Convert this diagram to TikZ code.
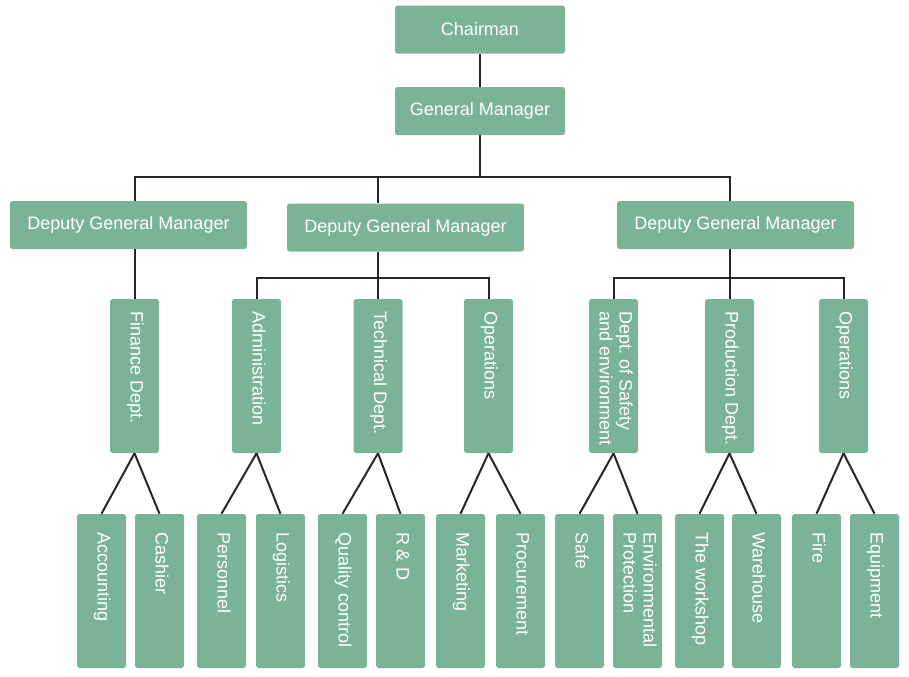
\documentclass[tikz,border=0pt]{standalone}
\usepackage{fontspec}
\setmainfont{Liberation Sans}
\usetikzlibrary{calc}
\definecolor{boxgreen}{HTML}{7BB398}
\definecolor{linegray}{HTML}{262626}
\newcommand{\vlabel}[2]{\makebox[#1][l]{\begin{tabular}{@{}l@{}}#2\end{tabular}}}
\tikzset{
  unit/.style={fill=boxgreen, text=white, rounded corners=2pt, inner sep=0pt, font=\fontsize{13.5}{15}\selectfont},
  hbox/.style={unit, minimum width=#1*0.75pt, minimum height=36pt},
  midbox/.style={unit, rotate=-90, minimum width=115.5pt, minimum height=36.75pt, inner xsep=9pt},
  lowbox/.style={unit, rotate=-90, minimum width=115.5pt, minimum height=36.75pt, inner xsep=13.5pt},
  link/.style={draw=linegray, line width=1.5pt}
}

\begin{document}
\begin{tikzpicture}[x=0.75pt, y=-0.75pt]
\useasboundingbox (0,0) rectangle (909,676);
% top of the chart
\node[hbox=170] (chair) at (480,29.5) {Chairman};
\node[hbox=170] (gm) at (480,111) {General Manager};
\node[hbox=237] (dgmA) at (128.5,225) {Deputy General Manager};
\node[hbox=237] (dgmB) at (405.5,227.5) {Deputy General Manager};
\node[hbox=237] (dgmC) at (735.5,225) {Deputy General Manager};
% departments
\foreach \n/\x/\txt in {fin/134.5/Finance Dept., adm/256.5/Administration, tech/378/Technical Dept., opsA/488.5/Operations, safe/613.5/{Dept.\ of Safety\\and environment}, prod/729.5/Production Dept., opsB/843.5/Operations} {
  \node[midbox] (\n) at (\x,376) {\vlabel{97.5pt}{\txt}};
}
\coordinate (busTop) at (0,177);
\coordinate (busMid) at (0,278);
\draw[link] (chair) -- (gm);
\draw[link] (gm.south) -- (gm.south |- busTop);
\draw[link] (fin.west |- dgmA.north) |- (prod.west |- busTop) -- (prod.west |- dgmC.north);
\draw[link] (tech.west |- busTop) -- (tech.west |- dgmB.north);
\draw[link] (fin.west |- dgmA.south) -- (fin.west);
\draw[link] (tech.west |- dgmB.south) -- (tech.west |- busMid);
\draw[link] (prod.west |- dgmC.south) -- (prod.west |- busMid);
\draw[link] (adm.west) |- (opsA.west |- busMid) -- (opsA.west);
\draw[link] (safe.west) |- (opsB.west |- busMid) -- (opsB.west);
\draw[link] (tech.west |- busMid) -- (tech.west);
\draw[link] (prod.west |- busMid) -- (prod.west);
% sections
\foreach \n/\x/\p/\txt in {acc/101.5/fin/Accounting, cash/159.5/fin/Cashier, pers/221.5/adm/Personnel, logi/280.5/adm/Logistics, qual/342.5/tech/Quality control, rd/400.5/tech/R \& D, mark/460.5/opsA/Marketing, proc/520.5/opsA/Procurement, sf/579.5/safe/Safe, env/637.5/safe/{Environmental\\Protection}, work/699.5/prod/The workshop, ware/756.5/prod/Warehouse, fire/816.5/opsB/Fire, equip/874.5/opsB/Equipment} {
  \node[lowbox] (\n) at (\x,591) {\vlabel{88.5pt}{\txt}};
  \draw[link] (\p.east) -- (\n.west);
}
\end{tikzpicture}
\end{document}
